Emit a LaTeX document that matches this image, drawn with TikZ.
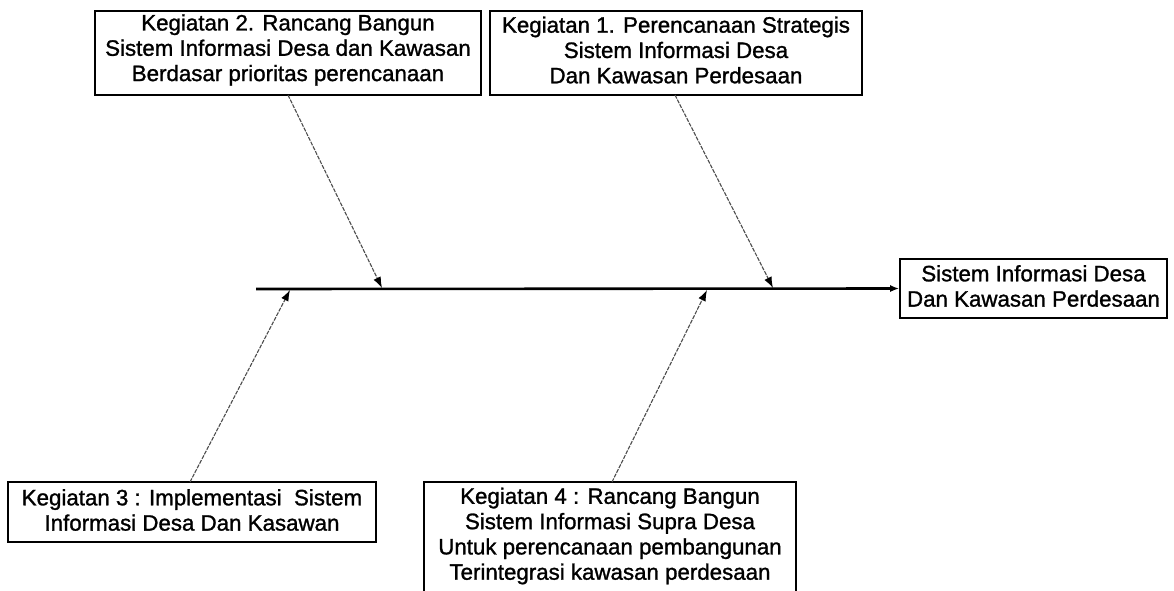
\documentclass[tikz,border=0pt]{standalone}
\usepackage{fontspec}
\setmainfont{Liberation Sans}
\newfontfamily\heavy[FakeBold=1.2]{Liberation Sans}
\usetikzlibrary{arrows.meta}
\begin{document}
\begin{tikzpicture}[x=1pt,y=-1pt,
  box/.style={draw=black,line width=1.6pt,inner sep=0pt},
  txt/.style={inner sep=0pt,align=center,font=\heavy\fontsize{22.3}{25.3}\selectfont},
  cause/.style={draw=gray!60!black,line width=1.1pt,dash pattern=on 4pt off 1.2pt,-{Latex[length=11pt,width=8pt,color=black]}},
  spine/.style={draw=black,line width=2.6pt,-{Latex[length=9pt,width=7pt]}}]
\useasboundingbox (0,0) rectangle (1174,590);
\fill[white] (0,0) rectangle (1174,590);
% boxes
\node[box,minimum width=386pt,minimum height=84pt] (k2) at (288,53) {};
\node[txt] (k2t) at (288,50) {Kegiatan 2. Rancang Bangun\\Sistem Informasi Desa dan Kawasan\\Berdasar prioritas perencanaan};
\node[box,minimum width=372pt,minimum height=84pt] (k1) at (676,53) {};
\node[txt] (k1t) at (676,50) {Kegiatan 1. Perencanaan Strategis\\Sistem Informasi Desa\\Dan Kawasan Perdesaan};
\node[box,minimum width=267pt,minimum height=59pt] (res) at (1033.5,288.5) {};
\node[txt] (rest) at (1033.5,286) {Sistem Informasi Desa\\Dan Kawasan Perdesaan};
\node[box,minimum width=368pt,minimum height=60pt] (k3) at (192,512) {};
\node[txt] (k3t) at (192,510) {Kegiatan 3 : Implementasi\ \ Sistem\\Informasi Desa Dan Kasawan};
\node[inner sep=0pt,minimum width=372pt,minimum height=130pt] (k4) at (610,547) {};
\node[txt] (k4t) at (610,536) {Kegiatan 4 : Rancang Bangun\\Sistem Informasi Supra Desa\\Untuk perencanaan pembangunan\\Terintegrasi kawasan perdesaan};
\draw[line width=1.6pt] (k4.south west) -- (k4.north west) -- (k4.north east) -- (k4.south east);
% spine
\coordinate (tail) at (256,289);
\draw[spine] (tail) -- (res.west);
% cause points on spine
\coordinate (p2) at (382,288);
\coordinate (p1) at (773,288);
\coordinate (p3) at (290,290);
\coordinate (p4) at (707,290);
\coordinate (s2) at (288,95);
\coordinate (s1) at (675,95);
\coordinate (s3) at (190,482);
\coordinate (s4) at (612,482);
\draw[cause] (s2) -- (p2);
\draw[cause] (s1) -- (p1);
\draw[cause] (s3) -- (p3);
\draw[cause] (s4) -- (p4);
\end{tikzpicture}
\end{document}
